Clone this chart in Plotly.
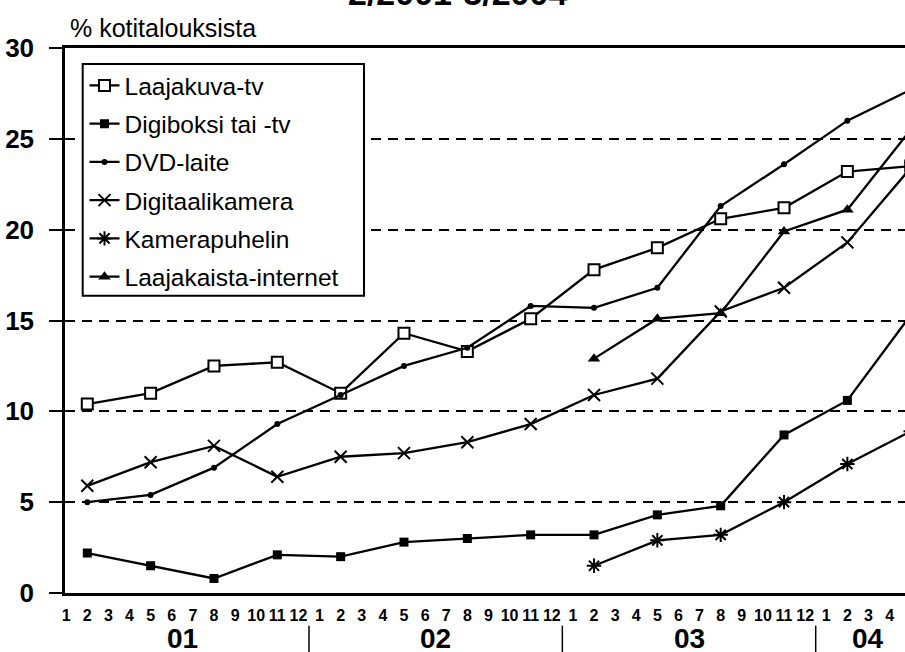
import plotly.graph_objects as go

# ---- data ----
months_q = [2, 5, 8, 11, 14, 17, 20, 23, 26, 29, 32, 35, 38, 41]
months_new = [26, 29, 32, 35, 38, 41]

laajakuva_tv = [10.4, 11.0, 12.5, 12.7, 11.0, 14.3, 13.3, 15.1, 17.8, 19.0, 20.6, 21.2, 23.2, 23.5]
digiboksi = [2.2, 1.5, 0.8, 2.1, 2.0, 2.8, 3.0, 3.2, 3.2, 4.3, 4.8, 8.7, 10.6, 15.3]
dvd_laite = [5.0, 5.4, 6.9, 9.3, 10.9, 12.5, 13.5, 15.8, 15.7, 16.8, 21.3, 23.6, 26.0, 27.7]
digitaalikamera = [5.9, 7.2, 8.1, 6.4, 7.5, 7.7, 8.3, 9.3, 10.9, 11.8, 15.5, 16.8, 19.3, 23.4]
kamerapuhelin = [1.5, 2.9, 3.2, 5.0, 7.1, 8.9]
laajakaista = [12.9, 15.1, 15.4, 19.9, 21.1, 25.5]

month_ticks = list(range(1, 42))
month_labels = [str((m - 1) % 12 + 1) for m in month_ticks]
year_labels = ["01", "02", "03", "04"]
year_centers = [6.5, 18.5, 30.5, 39.0]
year_separators = [12.5, 24.5, 36.5]
title_text = "2/2001-3/2004"
ytitle_text = "% kotitalouksista"

FONT = "Liberation Sans, Arial, sans-serif"
BLACK = "#000000"

# plot-area geometry (pixels) used to convert positions to paper coordinates
L, R, T, B = 65, 905, 48, 593.3
W, H = R - L, B - T


def px(p):
    return (p - L) / W


def py(p):
    return (B - p) / H


fig = go.Figure()

series = [
    ("Laajakuva-tv", months_q, laajakuva_tv, dict(symbol="square", size=11, color="white", line=dict(color=BLACK, width=2))),
    ("Digiboksi tai -tv", months_q, digiboksi, dict(symbol="square", size=9, color=BLACK, line=dict(color=BLACK, width=0))),
    ("DVD-laite", months_q, dvd_laite, dict(symbol="circle", size=6, color=BLACK, line=dict(color=BLACK, width=0))),
    ("Digitaalikamera", months_q, digitaalikamera, dict(symbol="x-thin-open", size=12, color=BLACK, line=dict(color=BLACK, width=2))),
    ("Kamerapuhelin", months_new, kamerapuhelin, dict(symbol="asterisk-open", size=12, color=BLACK, line=dict(color=BLACK, width=2))),
    ("Laajakaista-internet", months_new, laajakaista, dict(symbol="triangle-up", size=11, color=BLACK, line=dict(color=BLACK, width=0))),
]

for i, (name, xs, ys, mk) in enumerate(series):
    fig.add_trace(go.Scatter(
        x=xs, y=ys, name=name, mode="lines+markers",
        line=dict(color=BLACK, width=2.3),
        marker=mk, legendgroup=f"g{i}",
    ))

fig.update_layout(
    width=905, height=652,
    margin=dict(l=L, r=0, t=T, b=652 - B),
    paper_bgcolor="white", plot_bgcolor="white",
    font=dict(family=FONT, color=BLACK),
    showlegend=True,
    legend=dict(
        x=px(84.5), y=py(63), xanchor="left", yanchor="top",
        bgcolor="rgba(0,0,0,0)", borderwidth=0,
        font=dict(family=FONT, size=24.5, color=BLACK),
        traceorder="grouped", tracegroupgap=3.4,
    ),
    xaxis=dict(
        range=[0.944, 40.73],
        tickmode="array", tickvals=month_ticks, ticktext=month_labels,
        tickfont=dict(family=FONT, size=16, color=BLACK, weight="bold"),
        ticks="", showgrid=False, zeroline=False,
        showline=True, linecolor=BLACK, linewidth=3, mirror=True,
        ticklabelstandoff=6,
    ),
    yaxis=dict(
        range=[0, 30], tickvals=[0, 5, 10, 15, 20, 25, 30],
        tickfont=dict(family=FONT, size=26, color=BLACK, weight="bold"),
        ticks="outside", ticklen=13, tickwidth=2, tickcolor=BLACK,
        showline=True, linecolor=BLACK, linewidth=2.5,
        showgrid=True, gridcolor=BLACK, gridwidth=1.5, griddash="10px,7px",
        zeroline=False, ticklabelstandoff=10,
    ),
)

# legend frame
fig.add_shape(type="rect", xref="paper", yref="paper",
              x0=px(82.7), x1=px(364), y0=py(296), y1=py(64),
              fillcolor="white", line=dict(color=BLACK, width=2), layer="above")

# year labels below months
for lab, xc in zip(year_labels, year_centers):
    fig.add_annotation(x=xc, xref="x", y=py(638.5), yref="paper", text=lab,
                       showarrow=False, xanchor="center", yanchor="middle",
                       font=dict(family=FONT, size=28, color=BLACK, weight="bold"))

for xs in year_separators:
    fig.add_shape(type="line", xref="x", yref="paper", x0=xs, x1=xs, y0=py(626), y1=py(653),
                  line=dict(color=BLACK, width=1.5))

# y-axis unit label
fig.add_annotation(x=px(68), xref="paper", y=py(28), yref="paper",
                   text=ytitle_text, showarrow=False, xanchor="left", yanchor="middle",
                   font=dict(family=FONT, size=25, color=BLACK))

# partially visible title at top
fig.add_annotation(x=px(457), xref="paper", y=py(-7), yref="paper",
                   text=title_text, showarrow=False, xanchor="center", yanchor="middle",
                   font=dict(family=FONT, size=34, color=BLACK, weight="bold"))

fig.write_html("out.html", config={"displayModeBar": False},
               post_script="document.body.style.margin='0px';")
